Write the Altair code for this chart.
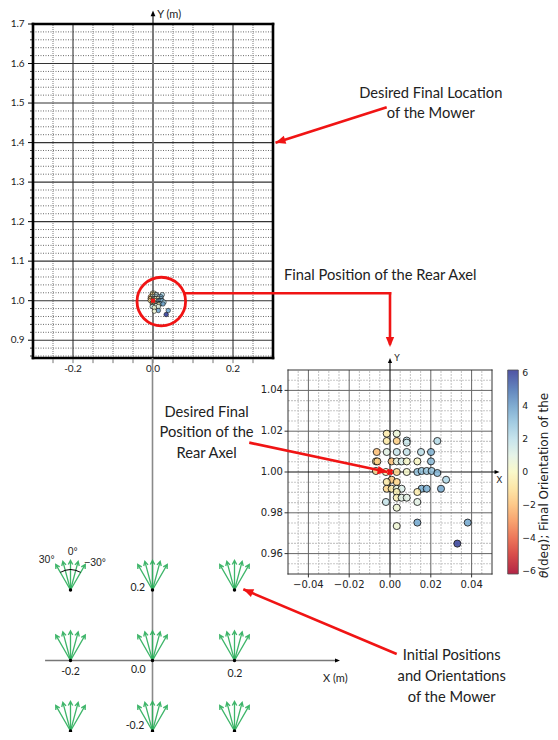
import altair as alt
import pandas as pd

# ---------------- data ----------------
# final rear-axle positions (m) and final orientation theta (deg)
final_x = [-0.0016, 0.0033, -0.0016, 0.0033, 0.0082, 0.0082, 0.0232,
           -0.0065, -0.0016, 0.0033, 0.0082, 0.0152, 0.0201,
           -0.0069, -0.0062, 0.0008, 0.0033, 0.0057, 0.0082, 0.0134, 0.0201,
           -0.0069, -0.0020, 0.0033, 0.0082, 0.0134, 0.0155, 0.0180, 0.0204, 0.0232,
           0.0275, 0.0008, -0.0016, 0.0033,
           -0.0016, 0.0008, 0.0033, 0.0057, 0.0155, 0.0180, 0.0250,
           0.0134, 0.0033, 0.0033, 0.0057, 0.0082,
           -0.0020, 0.0134, 0.0033, 0.0134, 0.0381, 0.0033, 0.0330]
final_y = [1.0188, 1.0188, 1.0152, 1.0152, 1.0154, 1.0144, 1.0152,
           1.0098, 1.0098, 1.0098, 1.0098, 1.0098, 1.0098,
           1.0052, 1.0052, 1.0052, 1.0052, 1.0052, 1.0052, 1.0052, 1.0052,
           1.0005, 1.0000, 1.0000, 1.0000, 1.0000, 1.0005, 1.0005, 1.0005, 0.9995,
           0.9962, 0.9962, 0.9951, 0.9951,
           0.9918, 0.9918, 0.9918, 0.9918, 0.9918, 0.9918, 0.9918,
           0.9902, 0.9902, 0.9874, 0.9874, 0.9874,
           0.9853, 0.9853, 0.9825, 0.9752, 0.9752, 0.9735, 0.9649]
final_theta = [-0.6, 0.6, -0.7, -1.6, 2.0, 1.6, 2.2,
               -2.0, 1.0, 1.8, 1.8, 2.0, 3.4,
               -0.9, -1.6, -1.9, 0.8, 1.2, 0.2, 0.1, 3.2,
               -1.2, -0.3, -1.4, 0.2, 3.0, 3.0, 2.8, 3.0, 3.4,
               2.4, -1.8, -0.6, -1.4,
               -1.4, -0.6, 0.8, 1.2, 3.6, 3.6, 3.8,
               -0.5, -0.3, -0.4, 1.0, 1.0,
               1.8, 1.0, 0.5, 3.8, 3.8, 0.5, 6.0]
desired_x = [0.0]
desired_y = [1.0]

# initial positions (m) and orientations (deg)
init_x = [-0.2, 0.0, 0.2]
init_y = [0.2, 0.0, -0.2]
init_theta = [30, 15, 0, -15, -30]

# tick values / labels
top_y_major = [0.9, 1.0, 1.1, 1.2, 1.3, 1.4, 1.5, 1.6, 1.7]
top_x_labels = [-0.2, 0.0, 0.2]
top_x_minor = [-0.25, -0.15, -0.1, -0.05, 0.05, 0.1, 0.15, 0.25]
inset_major = [-0.04, -0.02, 0.0, 0.02, 0.04]
inset_minor = [-0.045, -0.035, -0.03, -0.025, -0.015, -0.01, -0.005,
               0.005, 0.01, 0.015, 0.025, 0.03, 0.035, 0.045]
cbar_ticks = [-6, -4, -2, 0, 2, 4, 6]
theta_domain = [-6.2, 6.2]

# ---------------- panel placement (domain, pixel range) ----------------
TOP = {"x": ([-0.3, 0.3], [25, 265]), "y": ([0.855, 1.7], [350, 16])}
INS = {"x": ([-0.05, 0.05], [280, 484]), "y": ([0.95, 1.05], [566, 362])}
DIA = {"x": ([-0.3, 0.45], [21.5, 329]), "y": ([-0.25, 0.9], [740.6, 335.25])}

RED = "#f01414"
GREEN = "#2aae5a"
HEAD = "M0,0L-0.42,1L0.42,1Z"
ARROW = "M0,0L0,-1M-0.075,-0.86L0,-1L0.075,-0.86"
CAL = "Lato"
MPL = "DejaVu Sans"


def sc(p, ax):
    d, r = p[ax]
    return alt.Scale(domain=d, range=r, nice=False, zero=False)


def pos(p):
    return dict(x=alt.X("x:Q", scale=sc(p, "x"), axis=None),
                y=alt.Y("y:Q", scale=sc(p, "y"), axis=None))


def segs(p, x, y, x2, y2, **mk):
    df = pd.DataFrame({"x": x, "y": y, "x2": x2, "y2": y2})
    return alt.Chart(df).mark_rule(**mk).encode(**pos(p), x2=alt.X2("x2"), y2=alt.Y2("y2"))


def hlines(p, ys, x0, x1, **mk):
    n = len(ys)
    return segs(p, [x0] * n, ys, [x1] * n, ys, **mk)


def vlines(p, xs, y0, y1, **mk):
    n = len(xs)
    return segs(p, xs, [y0] * n, xs, [y1] * n, **mk)


def texts(p, x, y, t, **mk):
    df = pd.DataFrame({"x": x, "y": y, "t": t})
    return alt.Chart(df).mark_text(**mk).encode(**pos(p), text="t:N")


def syms(p, x, y, **mk):
    df = pd.DataFrame({"x": x, "y": y})
    return alt.Chart(df).mark_point(**mk).encode(**pos(p))


def red_arrow(p, x0, y0, x1, y1, ang):
    return [segs(p, [x0], [y0], [x1], [y1], color=RED, strokeWidth=2.6),
            syms(p, [x1], [y1], shape=HEAD, filled=True, color=RED, size=400,
                 angle=ang, opacity=1, strokeWidth=0)]


layers = []

# ================= TOP panel =================
tmin_y = [v for v in [round(0.86 + 0.02 * i, 2) for i in range(42)]
          if abs(v * 10 - round(v * 10)) > 1e-6]
layers.append(hlines(TOP, tmin_y, -0.3, 0.3, color="#444", strokeWidth=0.8, strokeDash=[1, 1.5]))
layers.append(vlines(TOP, top_x_minor, 0.855, 1.7, color="#9a9a9a", strokeWidth=1.3, strokeDash=[1, 1]))
layers.append(hlines(TOP, top_y_major[:-1], -0.3, 0.3, color="#333", strokeWidth=1.1))
layers.append(vlines(TOP, [-0.2, 0.2], 0.855, 1.7, color="#333", strokeWidth=1.1))
layers.append(vlines(TOP, [0.0], 0.855, 1.728, color="#7a7a7a", strokeWidth=2))
layers.append(syms(TOP, [0.0], [1.734], shape=HEAD, filled=True, color="black", size=130,
                   opacity=1, strokeWidth=0))
layers.append(texts(TOP, [0.0105], [1.7228], ["Y (m)"], align="left", font=CAL, fontSize=11, color="#222"))
# frame
layers.append(segs(TOP, [-0.3, -0.3, -0.3, 0.3], [0.855, 1.7, 0.855, 0.855],
                   [0.3, 0.3, -0.3, 0.3], [0.855, 1.7, 1.7, 1.7],
                   color="black", strokeWidth=2.6, strokeCap="square"))
# ticks
layers.append(hlines(TOP, top_y_major, -0.3, -0.3125, color="black", strokeWidth=1))
layers.append(hlines(TOP, tmin_y, -0.3, -0.3075, color="black", strokeWidth=0.8))
tx_ticks = [-0.25, -0.2, -0.15, -0.1, -0.05, 0.0, 0.05, 0.1, 0.15, 0.2, 0.25]
layers.append(vlines(TOP, tx_ticks, 0.8525, 0.842, color="#777", strokeWidth=1))
layers.append(texts(TOP, [-0.321] * len(top_y_major), top_y_major,
                    [f"{v:.1f}" for v in top_y_major], align="right",
                    font=CAL, fontSize=10, color="#222"))
layers.append(texts(TOP, top_x_labels, [0.827] * 3, [f"{v:.1f}" for v in top_x_labels],
                    font=CAL, fontSize=10, color="#222"))
# points (overview)
df_final = pd.DataFrame({"x": final_x, "y": final_y, "t": final_theta})
layers.append(alt.Chart(df_final).mark_circle(size=20, stroke="black", strokeWidth=0.6, opacity=0.9).encode(
    **pos(TOP),
    color=alt.Color("t:Q", scale=alt.Scale(scheme="redyellowblue", domain=theta_domain), legend=None)))
layers.append(syms(TOP, desired_x, desired_y, shape="square", filled=True, color=RED, size=16,
                   opacity=1, strokeWidth=0))
layers.append(syms(TOP, [0.02075], [0.9979], shape="circle", filled=False, color=RED, size=2360,
                   opacity=1, strokeWidth=2.8))
# annotations
layers += red_arrow(TOP, 0.5843, 1.4893, 0.3063, 1.3997, 252.4)
layers.append(texts(TOP, [0.6945, 0.6945], [1.5221, 1.4723],
                    ["Desired Final Location", "of the Mower"], font=CAL, fontSize=14.7, color="#222"))
layers.append(texts(TOP, [0.3275], [1.0625], ["Final Position of the Rear Axel"],
                    align="left", font=CAL, fontSize=14.7, color="#222"))
layers.append(segs(TOP, [0.0815, 0.5925], [1.0187, 1.0187], [0.5925, 0.5925], [1.0187, 0.892],
                   color=RED, strokeWidth=2.6, strokeCap="square"))
layers.append(syms(TOP, [0.5925], [0.8828], shape=HEAD, filled=True, color=RED, size=400,
                   angle=180, opacity=1, strokeWidth=0))

# ================= INSET panel =================
layers.append(vlines(INS, inset_minor, 0.95, 1.05, color="#c8c8c8", strokeWidth=1.1, strokeDash=[2, 1]))
layers.append(hlines(INS, [round(1 + v, 3) for v in inset_minor], -0.05, 0.05,
                     color="#c8c8c8", strokeWidth=1.1, strokeDash=[2, 1]))
imaj = [v for v in inset_major if v != 0.0]
layers.append(vlines(INS, imaj, 0.95, 1.05, color="#666", strokeWidth=1))
layers.append(hlines(INS, [round(1 + v, 3) for v in imaj], -0.05, 0.05, color="#666", strokeWidth=1))
layers.append(segs(INS, [-0.05, -0.05, -0.05, 0.05], [0.95, 1.05, 0.95, 0.95],
                   [0.05, 0.05, -0.05, 0.05], [0.95, 1.05, 1.05, 1.05],
                   color="#333", strokeWidth=1, strokeCap="square"))
# axes with arrows
layers.append(segs(INS, [-0.05, 0.0], [1.0, 0.95], [0.052, 0.0], [1.0, 1.054],
                   color="#111", strokeWidth=1.1))
layers.append(syms(INS, [0.0537], [1.0], shape=HEAD, filled=True, color="black", size=100,
                   angle=90, opacity=1, strokeWidth=0))
layers.append(syms(INS, [0.0], [1.0559], shape=HEAD, filled=True, color="black", size=100,
                   angle=0, opacity=1, strokeWidth=0))
layers.append(texts(INS, [0.0536], [0.9962], ["X"], font=MPL, fontSize=9, color="#222"))
layers.append(texts(INS, [0.0034], [1.0557], ["Y"], font=MPL, fontSize=9, color="#222"))
# ticks and labels
layers.append(hlines(INS, [round(1 + v, 3) for v in inset_major], -0.05, -0.0517, color="#333", strokeWidth=1))
layers.append(vlines(INS, inset_major, 0.95, 0.9483, color="#333", strokeWidth=1))
layers.append(texts(INS, [-0.0525] * 5, [round(1 + v, 3) for v in inset_major],
                    [f"{1 + v:.2f}" for v in inset_major], align="right",
                    font=MPL, fontSize=10, color="#222"))
layers.append(texts(INS, inset_major, [0.9446] * 5,
                    [f"{v:.2f}".replace("-", "\u2212") for v in inset_major],
                    font=MPL, fontSize=10, color="#222"))
# points with colorbar
layers.append(alt.Chart(df_final).mark_circle(size=50, stroke="black", strokeWidth=0.9, opacity=0.85).encode(
    **pos(INS),
    color=alt.Color("t:Q", title=None,
                    scale=alt.Scale(scheme="redyellowblue", domain=theta_domain),
                    legend=alt.Legend(orient="none", legendX=499.7, legendY=362, direction="vertical",
                                      gradientLength=204, gradientThickness=10.6, values=cbar_ticks,
                                      labelFont=MPL, labelFontSize=9.3, labelColor="#222", labelOffset=4,
                                      gradientStrokeColor="#333", gradientStrokeWidth=0.8,
                                      padding=0, offset=0))))
layers.append(syms(INS, desired_x, desired_y, shape="cross", filled=True, color=RED, size=45,
                   angle=45, opacity=1, strokeWidth=0))
layers += red_arrow(INS, -0.069, 1.0144, -0.0012, 1.0, 101.4)
layers.append(texts(INS, [-0.0899] * 3, [1.0291, 1.019, 1.0088],
                    ["Desired Final", "Position of the", "Rear Axel"], font=CAL, fontSize=14.7, color="#222"))
# colorbar title (rotated)
layers.append(texts(INS, [0.0753], [0.948], ["\u03b8"], angle=270, align="left", font=MPL,
                    fontSize=12, fontStyle="italic", color="#222"))
layers.append(texts(INS, [0.0753], [0.9516], [" (deg); Final Orientation of the"], angle=270,
                    align="left", font=MPL, fontSize=12, color="#222"))

# ================= DIAGRAM panel =================
layers.append(vlines(DIA, [0.0], -0.25, 0.8582, color="#8a8a8a", strokeWidth=1.6))
layers.append(hlines(DIA, [0.0], -0.262, 0.452, color="#777", strokeWidth=1.3))
layers.append(syms(DIA, [0.4573], [0.0], shape=HEAD, filled=True, color="black", size=100,
                   angle=90, opacity=1, strokeWidth=0))
layers.append(texts(DIA, [0.446], [-0.0525], ["X (m)"], font=CAL, fontSize=11, color="#222"))
layers.append(texts(DIA, [-0.2, -0.0346, 0.201, -0.036, -0.0427],
                    [-0.0318, -0.027, -0.0383, 0.2048, -0.1858],
                    ["-0.2", "0.0", "0.2", "0.2", "-0.2"], font=CAL, fontSize=10.5, color="#222"))
fan = pd.DataFrame([(x, y, t) for y in init_y for x in init_x for t in init_theta],
                   columns=["x", "y", "t"])
fan["a"] = (-fan["t"]) % 360
layers.append(alt.Chart(fan).mark_point(shape=ARROW, filled=False, size=3500, strokeWidth=1.3,
                                        color=GREEN, opacity=0.9).encode(
    **pos(DIA), angle=alt.Angle("a:Q", scale=None)))
bases = pd.DataFrame([(x, y) for y in init_y for x in init_x], columns=["x", "y"])
layers.append(alt.Chart(bases).mark_circle(size=12, color="black", opacity=1).encode(**pos(DIA)))
layers.append(alt.Chart(pd.DataFrame({"x": [init_x[0]], "y": [init_y[0]]})).mark_arc(
    radius=20.8, radius2=19.9, theta=5.7596, theta2=6.8068, color="black").encode(**pos(DIA)))
layers.append(texts(DIA, [-0.258, -0.1946, -0.1402], [0.2851, 0.307, 0.2757],
                    ["30\u00b0", "0\u00b0", "\u221230\u00b0"], font="Liberation Sans",
                    fontSize=10.5, color="#222"))
layers += red_arrow(DIA, 0.5956, 0.0184, 0.2215, 0.202, 292.8)
layers.append(texts(DIA, [0.7298] * 3, [0.0128, -0.0477, -0.1072],
                    ["Initial Positions", "and Orientations", "of the Mower"],
                    font=CAL, fontSize=14.7, color="#222"))

chart = alt.layer(*layers).resolve_scale(
    x="independent", y="independent", color="independent"
).properties(
    width=542, height=724, padding=0, background="white",
    autosize=alt.AutoSizeParams(type="none"),
).configure_view(strokeOpacity=0)

chart.save("out.html", embed_options={"renderer": "svg", "actions": False})
